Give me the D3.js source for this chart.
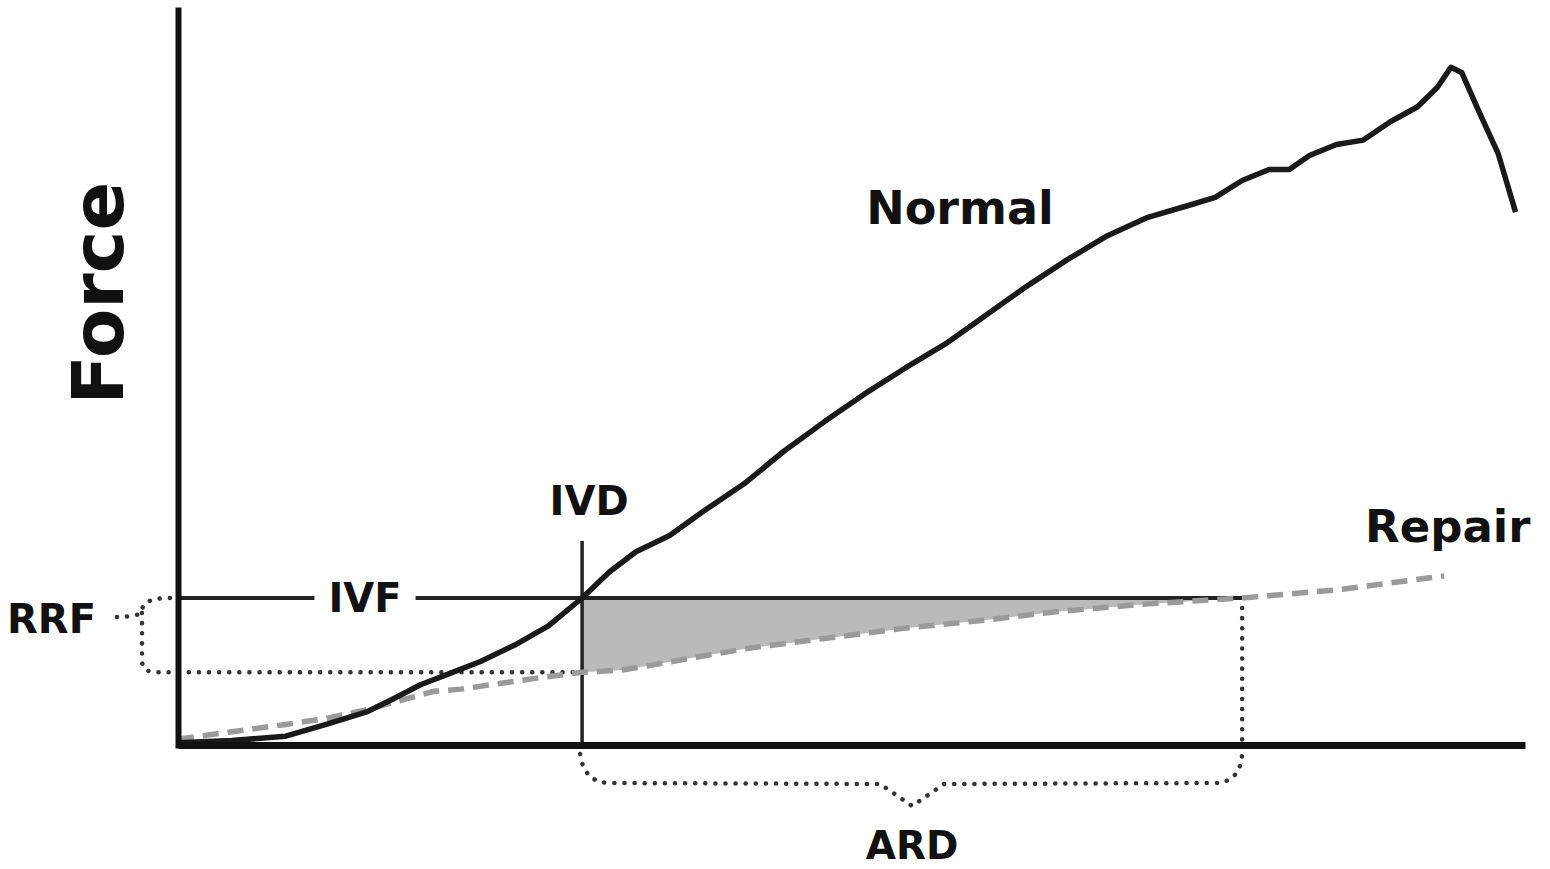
<!DOCTYPE html>
<html>
<head>
<meta charset="utf-8">
<script src="https://cdn.jsdelivr.net/npm/d3@7"></script>
<style>
  body { margin: 0; background: #fff; }
  text { font-family: "DejaVu Sans", sans-serif; font-weight: bold; fill: #111; }
</style>
</head>
<body>
<div id="chart"></div>
<script>
// displacement (x) / force (y), arbitrary units
var normalX = [0, 4, 8, 11, 14, 16, 18, 20, 22.5, 25, 27.5, 30, 32, 34, 36.5, 39, 42, 45, 48, 51, 54, 57, 60, 63, 66, 69, 72, 75, 77, 79, 81, 82.5, 84, 86, 88, 90, 92, 93.5, 94.5, 95.3, 96.5, 98, 99.3];
var normalY = [0.3, 0.6, 1.2, 2.8, 4.5, 6.3, 8.2, 9.6, 11.4, 13.6, 16.2, 20, 23.5, 26.3, 28.5, 31.8, 35.5, 40, 44, 47.8, 51.3, 54.6, 58.5, 62.4, 66, 69.3, 71.8, 73.4, 74.5, 76.8, 78.3, 78.3, 80.2, 81.7, 82.3, 84.8, 86.8, 89.5, 92.2, 91.5, 86.5, 80.5, 72.5];

var repairX = [0, 4, 8, 11, 14, 17, 19, 21, 24, 27, 30, 33, 35, 38, 42.5, 48, 54, 60, 65, 72, 79, 86, 94];
var repairY = [0.8, 1.8, 2.8, 3.6, 4.8, 6.3, 7.3, 7.6, 8.4, 9.2, 9.9, 10.2, 10.8, 11.8, 13.2, 14.5, 15.9, 17.0, 18.1, 19.2, 20, 21.1, 23.0];

var ivd = 30;     // initial variable displacement
var ivf = 20;     // initial variable force
var ard = 79;     // at repair displacement
var rrf = 9.9;    // repair force at IVD

document.addEventListener("DOMContentLoaded", function() {
  var width = 1550,
      height = 869;

  var svg = d3.select('#chart').append('svg')
    .attr('width', width)
    .attr('height', height);

  var x = d3.scaleLinear().domain([0, 100]).range([178, 1525]);
  var y = d3.scaleLinear().domain([0, 100]).range([745, 10]);

  var normal = normalX.map(function(d, i) { return [d, normalY[i]]; });
  var repair = repairX.map(function(d, i) { return [d, repairY[i]]; });

  // shaded area between IVF and repair curve
  var shade = repair.filter(function(d) { return d[0] >= ivd && d[0] <= ard; });
  svg.append('path')
    .datum(shade)
    .attr('d', d3.area()
      .x(function(d) { return x(d[0]); })
      .y0(function(d) { return y(d[1]); })
      .y1(y(ivf)))
    .attr('fill', '#bababa');

  var dotted = function(sel) {
    sel.attr('fill', 'none')
      .attr('stroke', '#333')
      .attr('stroke-width', 4.5)
      .attr('stroke-linecap', 'round')
      .attr('stroke-dasharray', '0.1,10');
  };

  // RRF brace on the left
  var bx = 142, yTop = y(ivf), yBot = y(rrf), yTip = yTop + 19;
  var p = d3.path();
  p.moveTo(x(0) - 8, yTop);
  p.quadraticCurveTo(bx, yTop, bx, yTip - 6);
  p.quadraticCurveTo(bx - 2, yTip, bx - 26, yTip);
  p.moveTo(bx, yTip - 4);
  p.lineTo(bx, yBot - 12);
  p.quadraticCurveTo(bx, yBot, bx + 14, yBot);
  p.lineTo(x(ivd), yBot);
  svg.append('path').attr('d', p.toString()).call(dotted);

  // ARD brace under the axis
  var xa = x(ivd), xb = x(ard), xm = (xa + xb) / 2, yb = 783;
  var q = d3.path();
  q.moveTo(xa - 2, 754);
  q.quadraticCurveTo(xa + 2, yb, xa + 28, yb);
  q.lineTo(xm - 32, yb + 1);
  q.lineTo(xm, 806);
  q.lineTo(xm + 32, yb + 1);
  q.lineTo(xb - 28, yb);
  q.quadraticCurveTo(xb - 2, yb, xb, 754);
  svg.append('path').attr('d', q.toString()).call(dotted);

  // vertical dotted drop at ARD
  svg.append('line')
    .attr('x1', xb).attr('x2', xb)
    .attr('y1', y(ivf) + 10).attr('y2', y(0))
    .call(dotted);

  // IVF horizontal line
  svg.append('line')
    .attr('x1', x(0)).attr('x2', x(ard))
    .attr('y1', y(ivf)).attr('y2', y(ivf))
    .attr('stroke', '#222')
    .attr('stroke-width', 4);

  // IVD vertical line
  svg.append('line')
    .attr('x1', x(ivd)).attr('x2', x(ivd))
    .attr('y1', 541).attr('y2', y(0))
    .attr('stroke', '#222')
    .attr('stroke-width', 3.5);

  // repair curve (dashed grey)
  svg.append('path')
    .datum(repair)
    .attr('d', d3.line()
      .x(function(d) { return x(d[0]); })
      .y(function(d) { return y(d[1]); }))
    .attr('fill', 'none')
    .attr('stroke', '#9a9a9a')
    .attr('stroke-width', 5.5)
    .attr('stroke-dasharray', '16,9');

  // normal curve
  svg.append('path')
    .datum(normal)
    .attr('d', d3.line()
      .x(function(d) { return x(d[0]); })
      .y(function(d) { return y(d[1]); }))
    .attr('fill', 'none')
    .attr('stroke', '#1a1a1a')
    .attr('stroke-width', 5.5)
    .attr('stroke-linejoin', 'round');

  // axes without ticks
  var ax = svg.append('g')
    .attr('transform', 'translate(0,' + y(0) + ')')
    .call(d3.axisBottom(x).tickValues([]).tickSizeOuter(0));
  ax.select('.domain').attr('stroke', '#111').attr('stroke-width', 7);

  var ay = svg.append('g')
    .attr('transform', 'translate(' + x(0) + ',0)')
    .call(d3.axisLeft(y).tickValues([]).tickSizeOuter(0));
  ay.select('.domain').attr('stroke', '#111').attr('stroke-width', 6).attr('stroke-linecap', 'square');

  // labels
  var ivfLabel = svg.append('text')
    .attr('x', 365).attr('y', y(ivf) + 14)
    .attr('text-anchor', 'middle')
    .style('font-size', '40px')
    .text('IVF');
  var bb = ivfLabel.node().getBBox();
  svg.insert('rect', 'text')
    .attr('x', bb.x - 14).attr('y', y(ivf) - 6)
    .attr('width', bb.width + 28).attr('height', 12)
    .attr('fill', '#fff');

  svg.append('text')
    .attr('transform', 'translate(123,293) rotate(-90)')
    .attr('text-anchor', 'middle')
    .style('font-size', '72px')
    .text('Force');

  svg.append('text')
    .attr('x', 960).attr('y', 224)
    .attr('text-anchor', 'middle')
    .style('font-size', '46px')
    .text('Normal');

  svg.append('text')
    .attr('x', 1365).attr('y', 542)
    .style('font-size', '45px')
    .text('Repair');

  svg.append('text')
    .attr('x', x(ivd) + 7).attr('y', 515)
    .attr('text-anchor', 'middle')
    .style('font-size', '40px')
    .text('IVD');

  svg.append('text')
    .attr('x', 96).attr('y', 633)
    .attr('text-anchor', 'end')
    .style('font-size', '40px')
    .text('RRF');

  svg.append('text')
    .attr('x', xm).attr('y', 859)
    .attr('text-anchor', 'middle')
    .style('font-size', '39px')
    .text('ARD');
});
</script>
</body>
</html>
